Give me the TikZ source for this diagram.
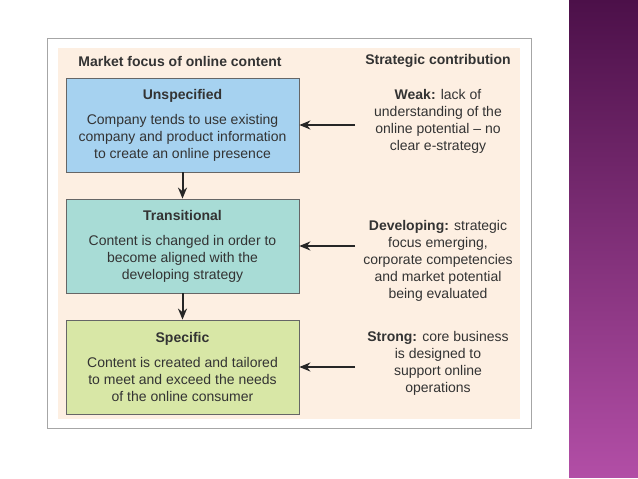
\documentclass[tikz,border=0pt]{standalone}
\usepackage{fontspec}
\setmainfont{Liberation Sans}
\usepackage{tikz}
\usetikzlibrary{arrows.meta}

\definecolor{peach}{HTML}{FDEFE2}
\definecolor{unspecblue}{HTML}{A6D2F0}
\definecolor{transteal}{HTML}{A8DCD6}
\definecolor{specgreen}{HTML}{D8E7A6}
\definecolor{inkgray}{HTML}{333333}
\definecolor{stripetop}{HTML}{4C1049}
\definecolor{stripebot}{HTML}{B24EA6}

\tikzset{
  stagebox/.style={draw=black!60, line width=0.8pt, minimum width=233pt,
    minimum height=94pt, align=center, text=inkgray,
    font=\fontsize{14}{17}\selectfont},
  contrib/.style={align=center, text=inkgray,
    font=\fontsize{14}{17}\selectfont},
  heading/.style={text=inkgray, font=\fontsize{14}{15}\selectfont\bfseries},
  flow/.style={line width=2pt, draw=black!85, -{Stealth[length=11pt,width=9pt]}}
}

\begin{document}
\begin{tikzpicture}[x=1pt, y=-1pt]
\useasboundingbox (0,0) rectangle (638,479);
% side stripe
\shade[top color=stripetop, bottom color=stripebot] (569,0) rectangle (638,477);
% frame
\draw[black!35, fill=white, line width=0.8pt] (47,38) rectangle (531,428);
\fill[peach] (58,48) rectangle (520,419);

\node[heading] (hleft) at (180,61) {Market focus of online content};
\node[heading] (hright) at (438,61) {Strategic contribution};

\node[stagebox, fill=unspecblue] (unspec) at (182.5,125)
  {{\bfseries Unspecified}\\[8pt]
   Company tends to use existing\\
   company and product information\\
   to create an online presence};
\node[stagebox, fill=transteal] (trans) at (182.5,246)
  {{\bfseries Transitional}\\[8pt]
   Content is changed in order to\\
   become aligned with the\\
   developing strategy};
\node[stagebox, fill=specgreen] (spec) at (182.5,367)
  {{\bfseries Specific}\\[8pt]
   Content is created and tailored\\
   to meet and exceed the needs\\
   of the online consumer};

\node[contrib] (weak) at (438,121.5)
  {\textbf{Weak:} lack of\\
   understanding of the\\
   online potential -- no\\
   clear e-strategy};
\node[contrib] (develop) at (438,261)
  {\textbf{Developing:} strategic\\
   focus emerging,\\
   corporate competencies\\
   and market potential\\
   being evaluated};
\node[contrib] (strong) at (438,363)
  {\textbf{Strong:} core business\\
   is designed to\\
   support online\\
   operations};

\coordinate (c1) at (355,125);
\coordinate (c2) at (355,246);
\coordinate (c3) at (355,367);

\draw[flow] (unspec) -- (trans);
\draw[flow] (trans) -- (spec);
\draw[flow] (c1) -- (unspec.east);
\draw[flow] (c2) -- (trans.east);
\draw[flow] (c3) -- (spec.east);
\end{tikzpicture}
\end{document}
